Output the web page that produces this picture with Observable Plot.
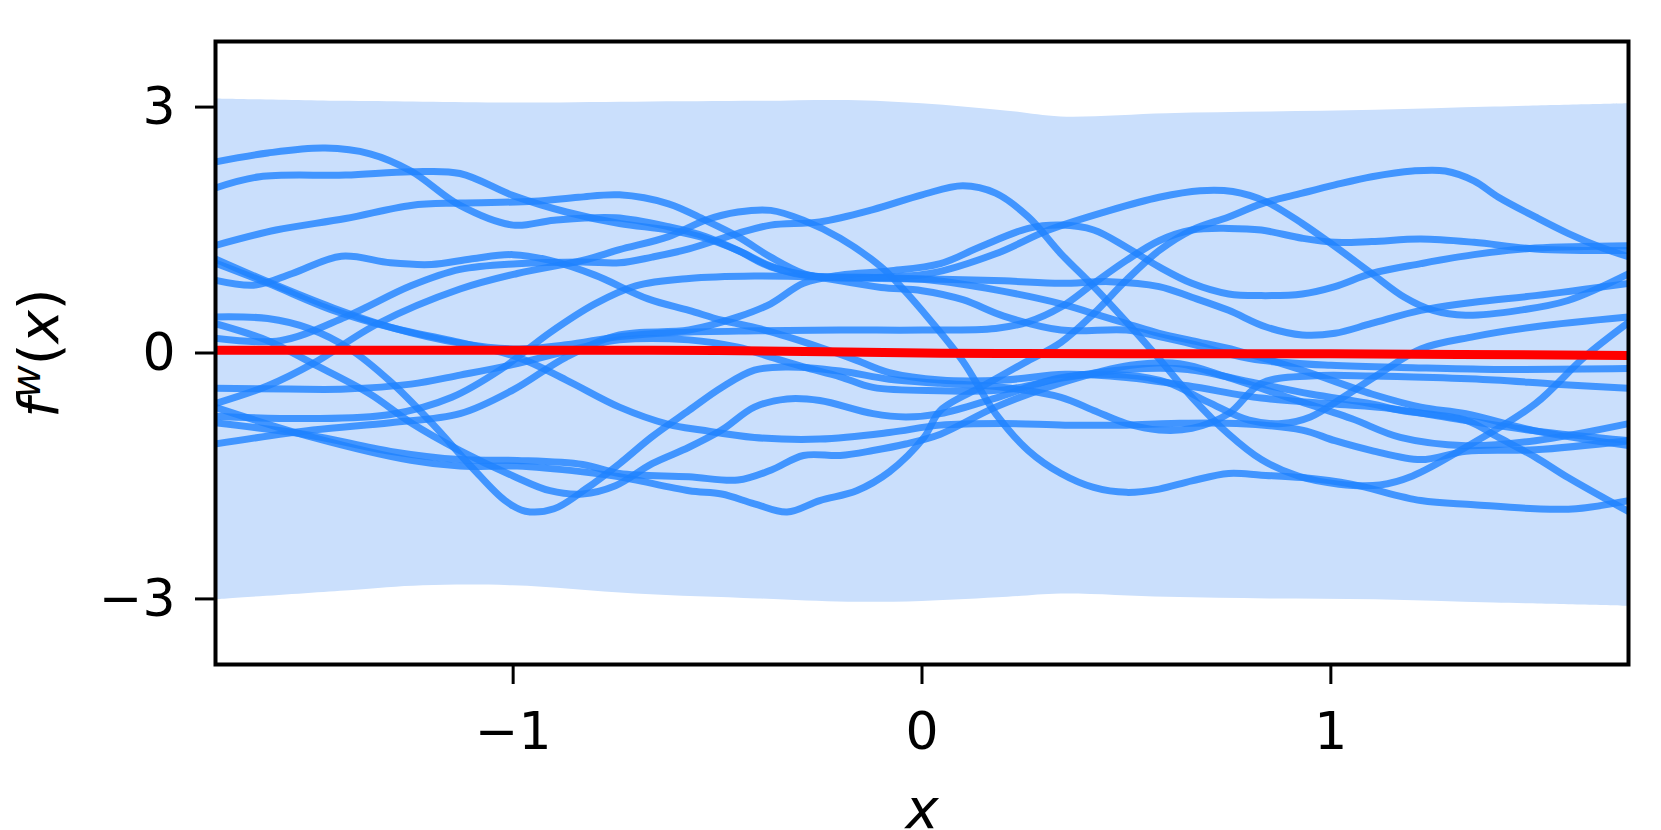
<!DOCTYPE html>
<html>
<head>
<meta charset="utf-8">
<script src="https://cdn.jsdelivr.net/npm/d3@7"></script>
<script src="https://cdn.jsdelivr.net/npm/@observablehq/plot@0.6"></script>
<style>
  html, body { margin: 0; padding: 0; background: #ffffff; overflow: hidden; }
  #chart svg { display: block; }
</style>
</head>
<body>
<div id="chart"></div>
<script>
// ---- data ----
const xTicks = [-1, 0, 1];
const yTicks = [-3, 0, 3];

// ±3 credible band
const bandX     = [-1.728, -1.4, -1.22, -1.0, -0.7, -0.4, -0.18, 0.0, 0.21, 0.34, 0.6, 0.85, 1.11, 1.4, 1.728];
const bandUpper = [3.10, 3.07, 3.06, 3.05, 3.06, 3.07, 3.08, 3.04, 2.95, 2.88, 2.92, 2.94, 2.96, 3.00, 3.04];
const bandLower = [-3.01, -2.90, -2.84, -2.84, -2.94, -3.00, -3.04, -3.03, -2.98, -2.94, -2.98, -3.00, -3.01, -3.05, -3.09];

// posterior mean
const meanX = [-1.728, -1.0, -0.5, 0.0, 0.5, 1.0, 1.728];
const meanY = [0.035, 0.033, 0.03, 0.0, -0.01, -0.01, -0.03];

// sampled functions [x, f(x)]
const s1 = [[-1.73,2.33],[-1.6,2.44],[-1.46,2.5],[-1.35,2.43],[-1.25,2.22],[-1.13,1.8],[-1.0,1.56],[-0.9,1.62],[-0.75,1.65],[-0.62,1.54],[-0.53,1.42],[-0.45,1.25],[-0.37,1.05],[-0.25,0.93],[-0.1,0.91],[0.05,0.9],[0.2,0.88],[0.34,0.85],[0.46,0.87],[0.58,0.81],[0.66,0.68],[0.75,0.52],[0.84,0.32],[0.93,0.22],[1.01,0.24],[1.1,0.36],[1.22,0.52],[1.35,0.62],[1.5,0.7],[1.73,0.85]];
const s2 = [[-1.73,2.01],[-1.62,2.15],[-1.41,2.17],[-1.25,2.21],[-1.13,2.19],[-1.0,1.92],[-0.87,1.72],[-0.74,1.58],[-0.62,1.5],[-0.53,1.4],[-0.45,1.25],[-0.37,1.06],[-0.29,0.95],[-0.15,0.92],[0.02,0.97],[0.18,1.21],[0.31,1.5],[0.46,1.74],[0.58,1.9],[0.68,1.98],[0.76,1.97],[0.84,1.85],[0.93,1.58],[1.01,1.3],[1.1,0.97],[1.18,0.68],[1.25,0.52],[1.33,0.46],[1.46,0.52],[1.58,0.64],[1.73,0.97]];
const s3 = [[-1.73,1.31],[-1.58,1.5],[-1.41,1.64],[-1.25,1.8],[-1.13,1.83],[-0.95,1.85],[-0.84,1.9],[-0.74,1.93],[-0.62,1.82],[-0.53,1.62],[-0.45,1.42],[-0.37,1.17],[-0.29,0.97],[-0.2,0.88],[-0.1,0.8],[0.0,0.76],[0.1,0.65],[0.2,0.45],[0.34,0.28],[0.5,0.28],[0.58,0.2],[0.66,0.11],[0.75,-0.01],[0.83,-0.09],[1.0,-0.15],[1.2,-0.18],[1.4,-0.2],[1.73,-0.19]];
const s4 = [[-1.73,0.89],[-1.63,0.83],[-1.54,0.97],[-1.42,1.18],[-1.3,1.1],[-1.2,1.08],[-1.1,1.15],[-1.0,1.2],[-0.91,1.13],[-0.8,0.95],[-0.67,0.66],[-0.57,0.52],[-0.49,0.4],[-0.4,0.3],[-0.33,0.2],[-0.25,0.07],[-0.16,-0.09],[-0.08,-0.24],[0.045,-0.33],[0.2,-0.33],[0.35,-0.26],[0.5,-0.3],[0.65,-0.4],[0.83,-0.55],[1.0,-0.62],[1.15,-0.68],[1.3,-0.8],[1.5,-0.95],[1.73,-1.07]];
const s5 = [[-1.73,1.15],[-1.61,0.89],[-1.44,0.55],[-1.29,0.3],[-1.13,0.12],[-1.0,0.05],[-0.87,0.1],[-0.74,0.2],[-0.6,0.25],[-0.4,0.27],[-0.2,0.28],[0.0,0.28],[0.18,0.3],[0.26,0.38],[0.34,0.56],[0.42,0.85],[0.5,1.13],[0.58,1.37],[0.66,1.5],[0.75,1.52],[0.83,1.5],[0.93,1.4],[1.01,1.35],[1.1,1.36],[1.22,1.39],[1.35,1.35],[1.5,1.27],[1.73,1.25]];
const s6 = [[-1.73,0.44],[-1.6,0.42],[-1.5,0.3],[-1.4,0.05],[-1.3,-0.35],[-1.2,-0.85],[-1.1,-1.4],[-1.02,-1.8],[-0.97,-1.93],[-0.9,-1.9],[-0.82,-1.65],[-0.74,-1.35],[-0.66,-1.02],[-0.57,-0.7],[-0.49,-0.42],[-0.41,-0.21],[-0.33,-0.17],[-0.2,-0.22],[-0.08,-0.32],[0.045,-0.37],[0.2,-0.42],[0.34,-0.54],[0.42,-0.7],[0.5,-0.86],[0.58,-0.94],[0.66,-0.92],[0.75,-0.74],[0.83,-0.37],[0.95,-0.28],[1.1,-0.28],[1.25,-0.3],[1.4,-0.33],[1.55,-0.38],[1.73,-0.43]];
const s7 = [[-1.73,0.36],[-1.6,0.15],[-1.49,-0.13],[-1.35,-0.5],[-1.25,-0.85],[-1.13,-1.19],[-1.0,-1.5],[-0.91,-1.68],[-0.83,-1.72],[-0.75,-1.62],[-0.66,-1.35],[-0.57,-1.15],[-0.49,-0.94],[-0.41,-0.66],[-0.33,-0.56],[-0.25,-0.58],[-0.12,-0.74],[-0.04,-0.78],[0.045,-0.74],[0.18,-0.55],[0.34,-0.3],[0.5,-0.27],[0.6,-0.36],[0.7,-0.6],[0.8,-0.82],[0.88,-0.86],[0.95,-0.78],[1.03,-0.54],[1.12,-0.25],[1.22,0.05],[1.35,0.2],[1.5,0.32],[1.73,0.44]];
const s8 = [[-1.73,0.18],[-1.57,0.15],[-1.41,0.44],[-1.25,0.82],[-1.13,1.02],[-0.99,1.09],[-0.83,1.11],[-0.74,1.1],[-0.66,1.17],[-0.57,1.27],[-0.45,1.46],[-0.37,1.56],[-0.25,1.6],[-0.12,1.75],[0.0,1.93],[0.1,2.04],[0.18,1.95],[0.26,1.66],[0.34,1.21],[0.42,0.81],[0.5,0.38],[0.58,-0.07],[0.66,-0.54],[0.75,-0.99],[0.83,-1.3],[0.92,-1.5],[1.02,-1.6],[1.12,-1.61],[1.2,-1.5],[1.33,-1.15],[1.5,-0.62],[1.62,-0.05],[1.73,0.38]];
const s9 = [[-1.73,-0.62],[-1.6,-0.4],[-1.49,-0.13],[-1.33,0.36],[-1.13,0.78],[-0.99,0.97],[-0.83,1.13],[-0.74,1.26],[-0.62,1.42],[-0.53,1.62],[-0.45,1.72],[-0.37,1.74],[-0.29,1.62],[-0.2,1.4],[-0.1,1.05],[-0.05,0.8],[0.02,0.4],[0.1,-0.1],[0.18,-0.74],[0.26,-1.19],[0.34,-1.47],[0.42,-1.64],[0.5,-1.7],[0.58,-1.66],[0.66,-1.56],[0.75,-1.47],[0.83,-1.49],[0.93,-1.52],[1.05,-1.6],[1.22,-1.8],[1.35,-1.85],[1.5,-1.9],[1.6,-1.9],[1.73,-1.8]];
const s10 = [[-1.73,-0.43],[-1.55,-0.44],[-1.41,-0.44],[-1.25,-0.38],[-1.13,-0.27],[-0.99,-0.13],[-0.83,0.07],[-0.74,0.16],[-0.57,0.16],[-0.45,0.07],[-0.37,-0.05],[-0.29,-0.17],[-0.2,-0.29],[-0.12,-0.42],[0.045,-0.46],[0.2,-0.45],[0.35,-0.3],[0.5,-0.2],[0.65,-0.2],[0.8,-0.35],[0.95,-0.5],[1.1,-0.62],[1.17,-0.7],[1.33,-0.82],[1.41,-1.03],[1.5,-1.27],[1.58,-1.52],[1.73,-1.94]];
const s11 = [[-1.73,-0.66],[-1.49,-1.03],[-1.25,-1.31],[-1.13,-1.38],[-0.99,-1.38],[-0.83,-1.45],[-0.74,-1.51],[-0.57,-1.68],[-0.49,-1.72],[-0.41,-1.84],[-0.33,-1.94],[-0.25,-1.8],[-0.16,-1.68],[-0.08,-1.45],[0.005,-1.03],[0.045,-0.7],[0.15,-0.4],[0.25,-0.12],[0.34,0.13],[0.42,0.48],[0.5,0.89],[0.58,1.25],[0.66,1.5],[0.75,1.66],[0.83,1.82],[0.93,1.95],[1.01,2.05],[1.1,2.15],[1.2,2.22],[1.28,2.22],[1.35,2.1],[1.41,1.9],[1.5,1.66],[1.58,1.46],[1.66,1.29],[1.73,1.17]];
const s12 = [[-1.73,-0.77],[-1.5,-0.8],[-1.3,-0.75],[-1.15,-0.54],[-1.03,-0.2],[-0.91,0.25],[-0.8,0.6],[-0.7,0.82],[-0.57,0.91],[-0.41,0.94],[-0.25,0.93],[-0.1,0.92],[0.02,0.89],[0.18,0.77],[0.34,0.6],[0.42,0.48],[0.5,0.36],[0.58,0.24],[0.66,0.15],[0.77,0.03],[0.93,-0.21],[1.1,-0.5],[1.22,-0.66],[1.33,-0.74],[1.5,-0.95],[1.73,-1.13]];
const s13 = [[-1.73,-1.11],[-1.49,-0.94],[-1.3,-0.85],[-1.13,-0.74],[-1.0,-0.45],[-0.87,-0.05],[-0.74,0.22],[-0.57,0.28],[-0.45,0.44],[-0.37,0.6],[-0.29,0.85],[-0.2,0.95],[-0.08,1.0],[0.045,1.09],[0.14,1.29],[0.26,1.52],[0.34,1.56],[0.42,1.5],[0.5,1.29],[0.58,1.05],[0.66,0.85],[0.75,0.72],[0.83,0.7],[0.93,0.72],[1.01,0.81],[1.1,0.97],[1.22,1.09],[1.35,1.2],[1.5,1.28],[1.73,1.31]];
const s14 = [[-1.73,-0.85],[-1.5,-1.0],[-1.3,-1.2],[-1.13,-1.3],[-0.99,-1.31],[-0.83,-1.36],[-0.74,-1.47],[-0.57,-1.51],[-0.45,-1.55],[-0.37,-1.43],[-0.29,-1.25],[-0.2,-1.25],[-0.12,-1.19],[-0.04,-1.11],[0.045,-0.99],[0.18,-0.66],[0.35,-0.35],[0.51,-0.15],[0.63,-0.13],[0.75,-0.3],[0.9,-0.55],[1.05,-0.8],[1.17,-1.03],[1.33,-1.13],[1.5,-1.07],[1.73,-0.86]];
const s15 = [[-1.73,1.1],[-1.6,0.85],[-1.44,0.52],[-1.29,0.3],[-1.15,0.15],[-0.99,-0.05],[-0.87,-0.33],[-0.74,-0.66],[-0.62,-0.87],[-0.54,-0.94],[-0.41,-1.03],[-0.25,-1.05],[-0.08,-0.97],[0.045,-0.88],[0.2,-0.86],[0.35,-0.88],[0.5,-0.88],[0.61,-0.86],[0.77,-0.86],[0.93,-0.94],[1.01,-1.07],[1.1,-1.19],[1.22,-1.3],[1.33,-1.2],[1.5,-1.18],[1.73,-1.07]];

// ---- tables built from the arrays ----
const sampleSets = [s1, s2, s3, s4, s5, s6, s7, s8, s9, s10, s11, s12, s13, s14, s15];
const samples = sampleSets.flatMap((pts, id) => pts.map(([x, y]) => ({id, x, y})));
const band = bandX.map((x, i) => ({x, hi: bandUpper[i], lo: bandLower[i]}));
const mean = meanX.map((x, i) => ({x, y: meanY[i]}));

const fmt = d => (d < 0 ? "\u2212" : "") + Math.abs(d);

const chart = Plot.plot({
  width: 1661,
  height: 830,
  marginLeft: 215,
  marginRight: 33,
  marginTop: 41,
  marginBottom: 166,
  x: {domain: [-1.728, 1.728]},
  y: {domain: [-3.8, 3.8]},
  style: {fontFamily: "'DejaVu Sans', sans-serif", fontSize: "52px", background: "#ffffff", color: "#000000"},
  marks: [
    Plot.areaY(band, {x: "x", y1: "lo", y2: "hi", fill: "#cadffc", curve: "catmull-rom", clip: true}),
    Plot.line(samples, {x: "x", y: "y", z: "id", stroke: "#1e82ff", strokeOpacity: 0.8, strokeWidth: 7, curve: "catmull-rom", clip: true}),
    Plot.line(mean, {x: "x", y: "y", stroke: "#ff0000", strokeWidth: 9, curve: "catmull-rom", clip: true}),
    Plot.frame({stroke: "#000000", strokeWidth: 4}),
    Plot.axisX({ticks: xTicks, tickFormat: fmt, tickSize: 20, tickPadding: 28, strokeWidth: 3, fontSize: 52,
      label: "x", labelAnchor: "center", labelArrow: "none", labelOffset: 163}),
    Plot.axisY({ticks: yTicks, tickFormat: fmt, tickSize: 20, tickPadding: 20, strokeWidth: 3, fontSize: 52,
      label: "fw(x)", labelAnchor: "center", labelArrow: "none", labelOffset: 197})
  ]
});

document.getElementById("chart").appendChild(chart);

// math-style axis labels: italic f, superscript w, italic x
const yl = chart.querySelector('[aria-label="y-axis label"] text');
if (yl) {
  yl.textContent = "";
  yl.setAttribute("font-size", "56px");
  const parts = [["f", "italic", null], ["w", "italic", "super"], ["(", "normal", null], ["x", "italic", null], [")", "normal", null]];
  for (const [t, st, shift] of parts) {
    const ts = document.createElementNS("http://www.w3.org/2000/svg", "tspan");
    ts.textContent = t;
    ts.setAttribute("font-style", st);
    if (shift) { ts.setAttribute("font-size", "40px"); ts.setAttribute("dy", "-0.45em"); }
    else if (t === "(") { ts.setAttribute("dy", "0.32em"); }
    yl.appendChild(ts);
  }
}
const xl = chart.querySelector('[aria-label="x-axis label"] text');
if (xl) { xl.setAttribute("font-style", "italic"); xl.setAttribute("font-size", "56px"); }
</script>
</body>
</html>
